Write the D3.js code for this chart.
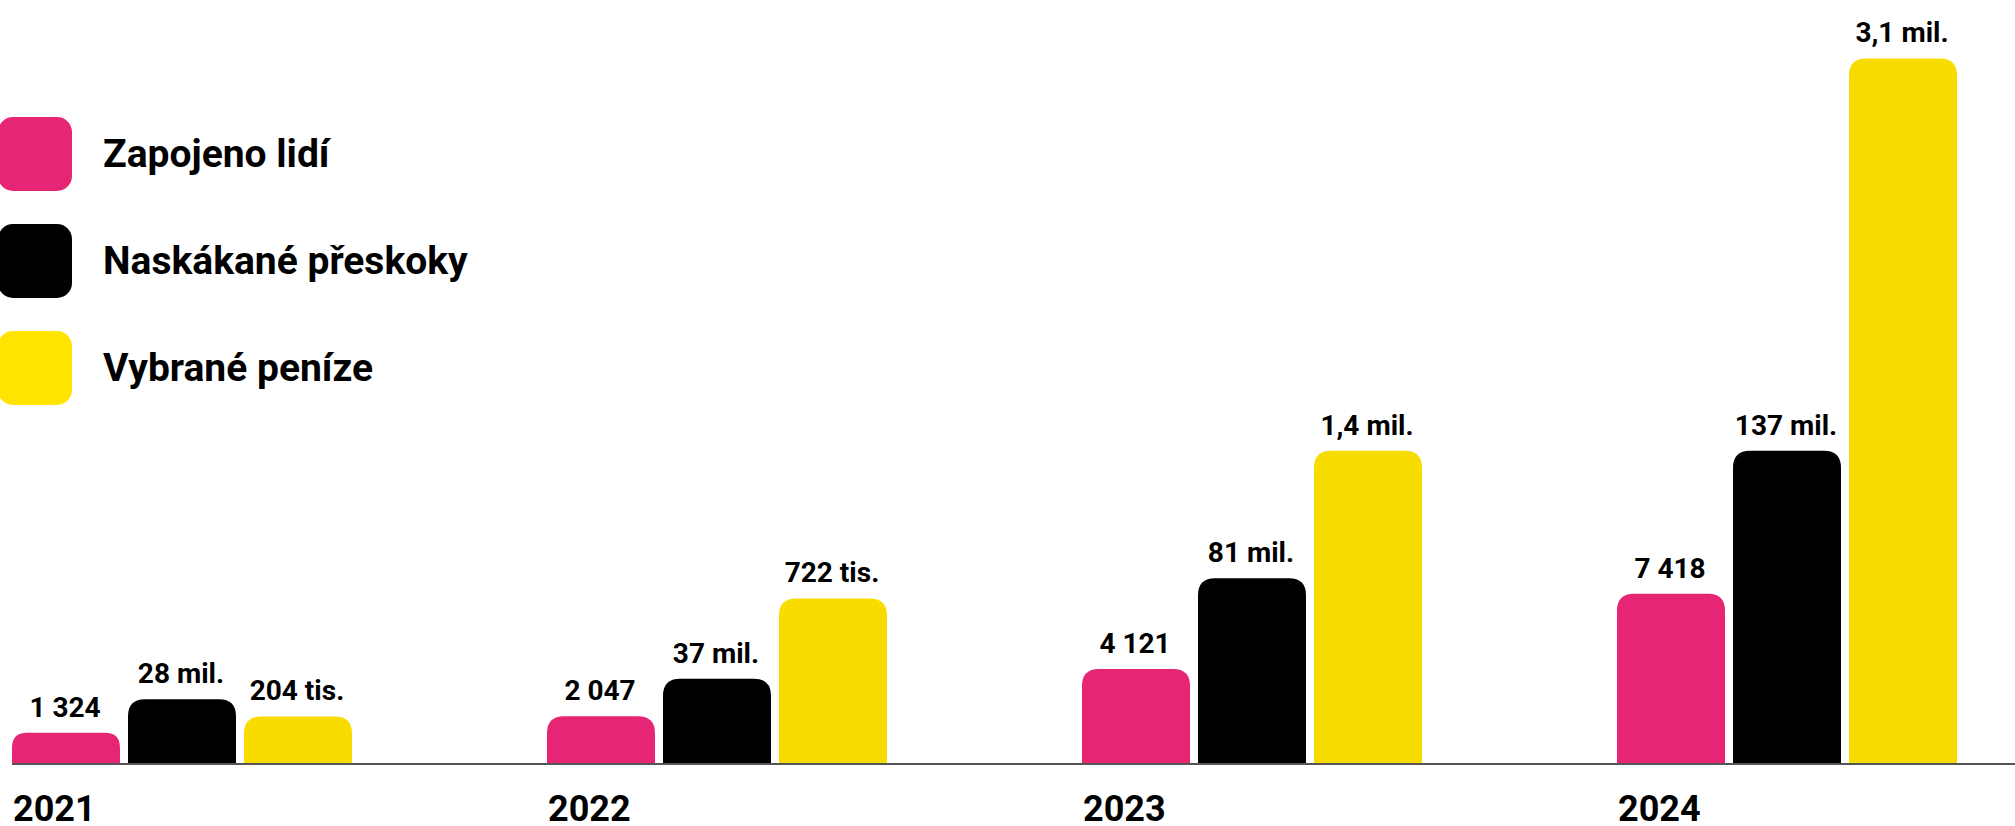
<!DOCTYPE html>
<html><head><meta charset="utf-8">
<script src="https://cdn.jsdelivr.net/npm/d3@7"></script>
<style>html,body{margin:0;padding:0;background:#fff;overflow:hidden}svg{display:block}text{font-family:Roboto,"Noto Sans",sans-serif;font-weight:700;fill:#000}</style>
</head><body><svg id="c" width="2015" height="826"></svg>
<script>
const years = ["2021","2022","2023","2024"];
const seriesNames = ["Zapojeno lidí","Naskákané přeskoky","Vybrané peníze"];
const seriesColors = ["#E62574","#000000","#F8DC00"];
const legendColors = ["#E62574","#000000","#FFE400"];
const people = [1324, 2047, 4121, 7418];
const jumpsMil = [28, 37, 81, 137];
const money = [204000, 722000, 1370000, 3090000];
const seriesDomains = [[0,10000],[0,100],[0,1000000]];

const cz = d3.formatLocale({decimal:",", thousands:"\u00a0", grouping:[3], currency:["","\u00a0Kč"]});
const fmtInt = cz.format(",d");
const fmt1 = cz.format(".1f");
const formatters = [
  v => fmtInt(v).replace(/\u00a0/g," "),
  v => v + " mil.",
  v => v < 1e6 ? Math.round(v/1000) + " tis." : fmt1(v/1e6) + " mil."
];
const seriesValues = [people, jumpsMil, money];

const W = 2015, H = 826;
const base = 763;
const svg = d3.select("#c");

const x0 = d3.scaleBand().domain(years).range([12, 1957]).paddingInner(0.3645).paddingOuter(0);
const x1 = d3.scaleBand().domain(d3.range(3)).range([0, x0.bandwidth()]).paddingInner(0.069).paddingOuter(0);
const ys = seriesDomains.map(d => d3.scaleLinear().domain(d).range([base, base - 228]));

function topRounded(x, y, w, h, r) {
  r = Math.min(r, h / 2, w / 2);
  return `M${x},${y+h}V${y+r}Q${x},${y} ${x+r},${y}H${x+w-r}Q${x+w},${y} ${x+w},${y+r}V${y+h}Z`;
}

const data = [];
years.forEach((yr, i) => {
  for (let s = 0; s < 3; s++) data.push({yr, s, v: seriesValues[s][i]});
});

const g = svg.append("g");
g.selectAll("path.bar").data(data).join("path")
  .attr("class","bar")
  .attr("fill", d => seriesColors[d.s])
  .attr("d", d => {
    const x = x0(d.yr) + x1(d.s), y = ys[d.s](d.v);
    return topRounded(x, y, x1.bandwidth(), base - y, 17);
  });

g.selectAll("text.val").data(data).join("text")
  .attr("class","val")
  .attr("x", d => x0(d.yr) + x1(d.s) + x1.bandwidth()/2 - 1)
  .attr("y", d => ys[d.s](d.v) - 16)
  .attr("text-anchor","middle")
  .attr("font-size", 28)
  .text(d => formatters[d.s](d.v));

// baseline axis
const axis = d3.axisBottom(x0).tickSize(0).tickFormat("");
const ax = svg.append("g").attr("transform", `translate(0,${base+1})`).call(axis);
ax.select(".domain").attr("stroke","#555").attr("stroke-width",2).attr("d", `M12,0H${W}`);

svg.selectAll("text.year").data(years).join("text")
  .attr("class","year")
  .attr("x", d => x0(d) + 1)
  .attr("y", 821)
  .attr("font-size", 36)
  .text(d => d);

// legend
const leg = svg.append("g");
const ly = d3.scalePoint().domain(seriesNames).range([117, 331]);
leg.selectAll("rect").data(seriesNames).join("rect")
  .attr("x", -2).attr("y", d => ly(d)).attr("width", 74).attr("height", 74)
  .attr("rx", 15).attr("fill", (d,i) => legendColors[i]);
leg.selectAll("text").data(seriesNames).join("text")
  .attr("x", 103).attr("y", d => ly(d) + 50)
  .attr("font-size", 39)
  .text(d => d);
</script></body></html>
